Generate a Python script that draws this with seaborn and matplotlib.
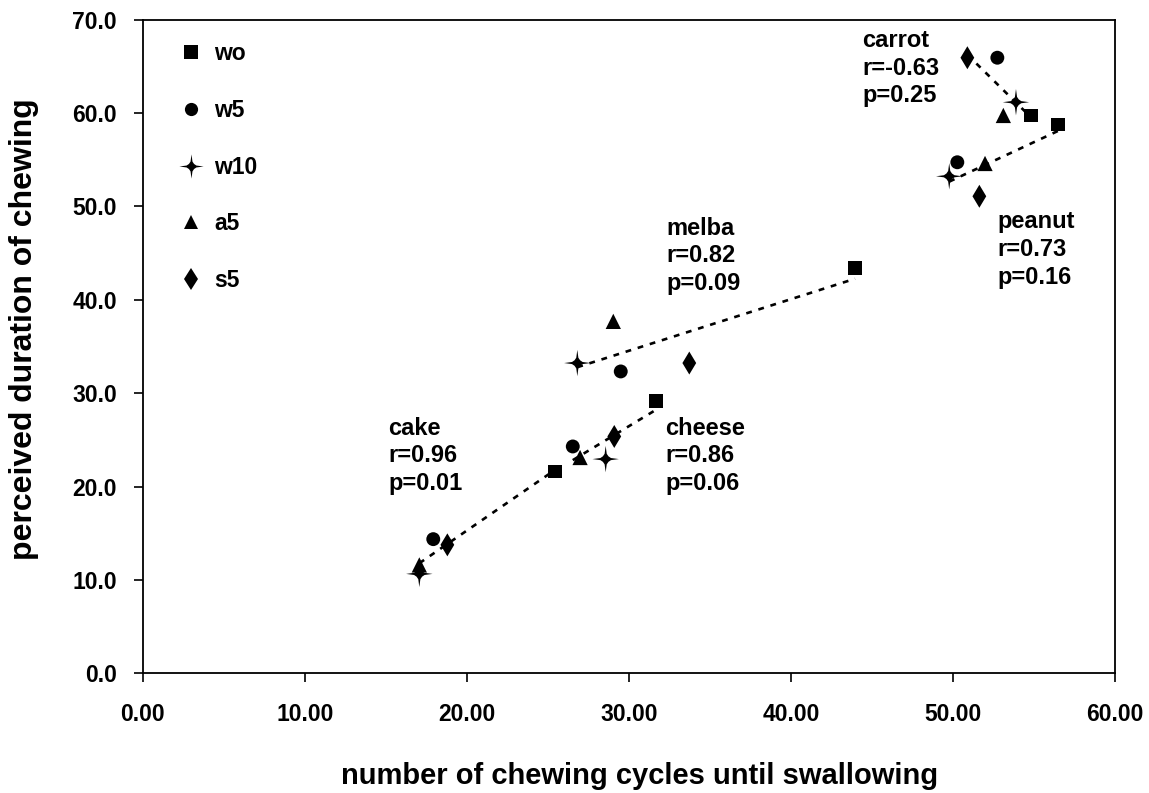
import numpy as np
import pandas as pd
import matplotlib
matplotlib.use("Agg")
import matplotlib.pyplot as plt
import seaborn as sns
from matplotlib.path import Path
from matplotlib.lines import Line2D

# ---------------- data ----------------
conditions = ["wo", "w5", "w10", "a5", "s5"]
foods = ["cake", "cheese", "melba", "carrot", "peanut"]

cake_x = [25.42, 17.93, 17.07, 17.07, 18.80]
cake_y = [21.62, 14.38, 10.66, 11.62, 13.77]
cheese_x = [31.68, 26.54, 28.57, 26.99, 29.10]
cheese_y = [29.12, 24.30, 22.95, 23.12, 25.37]
melba_x = [43.96, 29.50, 26.82, 29.04, 33.73]
melba_y = [43.44, 32.33, 33.23, 37.69, 33.23]
carrot_x = [54.80, 52.74, 53.89, 53.11, 50.89]
carrot_y = [59.73, 65.91, 61.15, 59.73, 65.91]
peanut_x = [56.50, 50.27, 49.77, 51.98, 51.63]
peanut_y = [58.76, 54.72, 53.22, 54.59, 51.08]

r_values = ["0.96", "0.86", "0.82", "-0.63", "0.73"]
p_values = ["0.01", "0.06", "0.09", "0.25", "0.16"]

x_ticks = [0, 10, 20, 30, 40, 50, 60]
y_ticks = [0, 10, 20, 30, 40, 50, 60, 70]

xs = {"cake": cake_x, "cheese": cheese_x, "melba": melba_x,
      "carrot": carrot_x, "peanut": peanut_x}
ys = {"cake": cake_y, "cheese": cheese_y, "melba": melba_y,
      "carrot": carrot_y, "peanut": peanut_y}

rows = []
for f in foods:
    for c, xv, yv in zip(conditions, xs[f], ys[f]):
        rows.append({"food": f, "cond": c, "x": xv, "y": yv})
df = pd.DataFrame(rows)

# ---------------- style ----------------
sns.set_theme(style="white")
plt.rcParams["font.family"] = ["Liberation Sans", "DejaVu Sans"]
plt.rcParams["font.weight"] = "bold"
plt.rcParams["text.color"] = "black"

# four-pointed "sparkle" star marker with concave sides
a, b = 0.08, 0.40
c_ = 0.21
star_verts = [(0, 1), (a, b), (c_, c_), (b, a),
              (1, 0), (b, -a), (c_, -c_), (a, -b),
              (0, -1), (-a, -b), (-c_, -c_), (-b, -a),
              (-1, 0), (-b, a), (-c_, c_), (-a, b),
              (0, 1)]
star = Path(star_verts, [Path.MOVETO] + [Path.LINETO] * 15 + [Path.CLOSEPOLY])

marker_map = {"wo": "s", "w5": "o", "w10": star, "a5": "^", "s5": "d"}
size_ms = {"wo": 10, "w5": 10, "w10": 19, "a5": 11, "s5": 11.7}
size_map = {k: v ** 2 for k, v in size_ms.items()}

fig = plt.figure(figsize=(11.49, 7.93), dpi=100)
ax = fig.add_axes([0.1242, 0.1507, 0.8462, 0.8247])

# regression lines per food
for f in foods:
    sub = df[df["food"] == f]
    sns.regplot(data=sub, x="x", y="y", scatter=False, ci=None, truncate=True,
                ax=ax, color="black",
                line_kws=dict(linestyle=(0, (2.2, 2.6)), lw=1.9))

sns.scatterplot(data=df, x="x", y="y", style="cond", size="cond",
                markers=marker_map, sizes=size_map, color="black",
                edgecolor="none", linewidth=0, legend=False, ax=ax, zorder=3)

ax.set_xlim(0, 60)
ax.set_ylim(0, 70)
ax.set_xticks(x_ticks)
ax.set_yticks(y_ticks)
ax.set_xticklabels([f"{v:.2f}" for v in x_ticks])
ax.set_yticklabels([f"{v:.1f}" for v in y_ticks])
ax.tick_params(axis="both", which="major", direction="out", length=6.5,
               width=1.2, color="black", labelsize=16.5, labelcolor="black",
               bottom=True, left=True, top=False, right=False)
ax.tick_params(axis="x", pad=15)
ax.tick_params(axis="y", pad=12)
for lab in ax.get_xticklabels() + ax.get_yticklabels():
    lab.set_fontweight("bold")

for sp in ax.spines.values():
    sp.set_visible(True)
    sp.set_color("black")
    sp.set_linewidth(1.3)

ax.set_xlabel("number of chewing cycles until swallowing", fontsize=21,
              fontweight="bold", color="black")
ax.set_ylabel("perceived duration of chewing", fontsize=23,
              fontweight="bold", color="black")
ax.xaxis.set_label_coords(0.511, -0.135)
ax.yaxis.set_label_coords(-0.107, 0.527)

# annotations
ann_pos = {"cake": (15.14, 27.5), "cheese": (32.23, 27.5), "melba": (32.34, 48.9),
           "carrot": (44.39, 69.0), "peanut": (52.72, 49.6)}
for f, r, p in zip(foods, r_values, p_values):
    ax.text(ann_pos[f][0], ann_pos[f][1], f"{f}\nr={r}\np={p}",
            fontsize=17, fontweight="bold", va="top", ha="left",
            linespacing=1.265, color="black")

# legend
handles = [Line2D([], [], linestyle="none", marker=marker_map[c],
                  markersize=size_ms[c] * (0.92 if c == "w10" else 0.95),
                  color="black", markeredgewidth=0) for c in conditions]
leg = ax.legend(handles, conditions, loc="upper left",
                bbox_to_anchor=(0.038, 0.965), frameon=False,
                fontsize=16.5, labelspacing=1.47, handlelength=1.0,
                handletextpad=0.5, borderaxespad=0, borderpad=0,
                labelcolor="black")
for t in leg.get_texts():
    t.set_fontweight("bold")

fig.savefig("out.png", dpi=100, facecolor="white")
